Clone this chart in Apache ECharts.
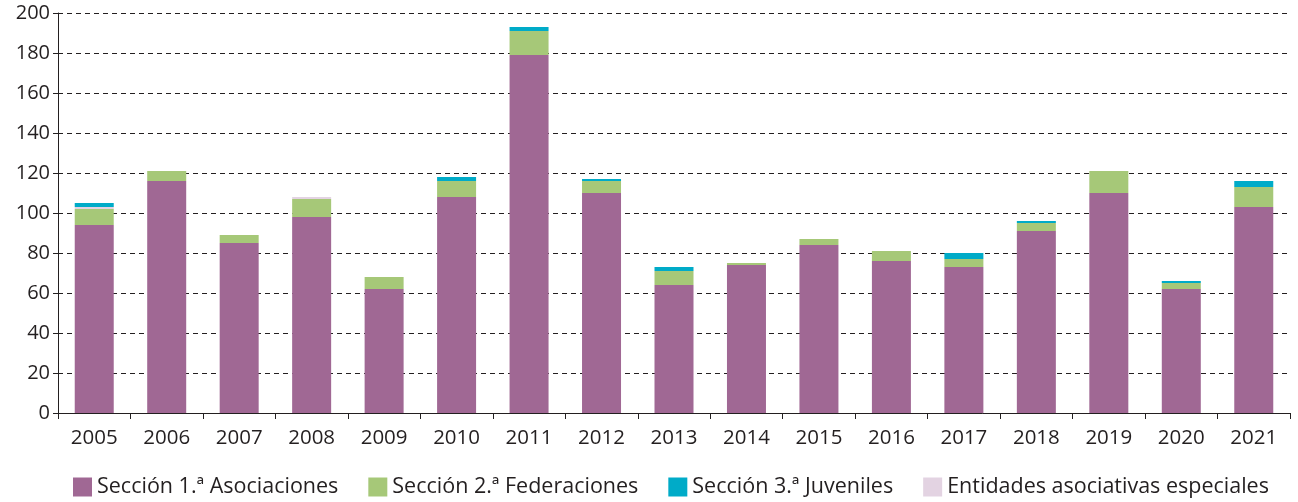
<!DOCTYPE html>
<html>
<head>
<meta charset="utf-8">
<script src="https://cdn.jsdelivr.net/npm/echarts@6/dist/echarts.min.js"></script>
<style>
  html, body { margin: 0; padding: 0; background: #fff; }
  #chart { width: 1298px; height: 502px; }
</style>
</head>
<body>
<div id="chart"></div>
<script>
var years = ['2005','2006','2007','2008','2009','2010','2011','2012','2013','2014','2015','2016','2017','2018','2019','2020','2021'];
var asociaciones = [94,116,85,98,62,108,179,110,64,74,84,76,73,91,110,62,103];
var federaciones = [8,5,4,9,6,8,12,6,7,1,3,5,4,4,11,3,10];
var especiales   = [1,0,0,1,0,0,0,0,0,0,0,0,0,0,0,0,0];
var juveniles    = [2,0,0,0,0,2,2,1,2,0,0,0,3,1,0,1,3];

var font = '"Open Sans", "Noto Sans", sans-serif';
var ink = '#231f20';

function bar(name, data, color) {
  return {
    name: name,
    type: 'bar',
    stack: 'total',
    barWidth: 39,
    data: data,
    itemStyle: { color: color },
    emphasis: { disabled: true }
  };
}

var chart = echarts.init(document.getElementById('chart'));
chart.setOption({
  animation: false,
  textStyle: { fontFamily: font },
  grid: { left: 58, right: 8, top: 13, bottom: 89, containLabel: false },
  legend: {
    left: 68,
    top: 471,
    itemWidth: 19,
    itemHeight: 19,
    itemGap: 30,
    icon: 'rect',
    textStyle: { fontSize: 21.5, color: ink, fontFamily: font },
    data: ['Sección 1.ª Asociaciones', 'Sección 2.ª Federaciones', 'Sección 3.ª Juveniles', 'Entidades asociativas especiales']
  },
  xAxis: {
    type: 'category',
    data: years,
    axisLine: { lineStyle: { color: ink, width: 1 } },
    axisTick: { show: true, interval: 0, length: 6, lineStyle: { color: ink } },
    axisLabel: { color: ink, fontSize: 20.5, margin: 15 }
  },
  yAxis: {
    type: 'value',
    min: 0,
    max: 200,
    interval: 20,
    axisLine: { show: true, lineStyle: { color: ink, width: 1 } },
    axisTick: { show: true, length: 5, lineStyle: { color: ink } },
    axisLabel: { color: ink, fontSize: 20, margin: 8 },
    splitLine: { lineStyle: { color: ink, type: [5, 4], width: 1 } }
  },
  series: [
    bar('Sección 1.ª Asociaciones', asociaciones, '#a06894'),
    bar('Sección 2.ª Federaciones', federaciones, '#a6c878'),
    bar('Entidades asociativas especiales', especiales, '#e3d3e2'),
    bar('Sección 3.ª Juveniles', juveniles, '#00abc8')
  ]
});
</script>
</body>
</html>
